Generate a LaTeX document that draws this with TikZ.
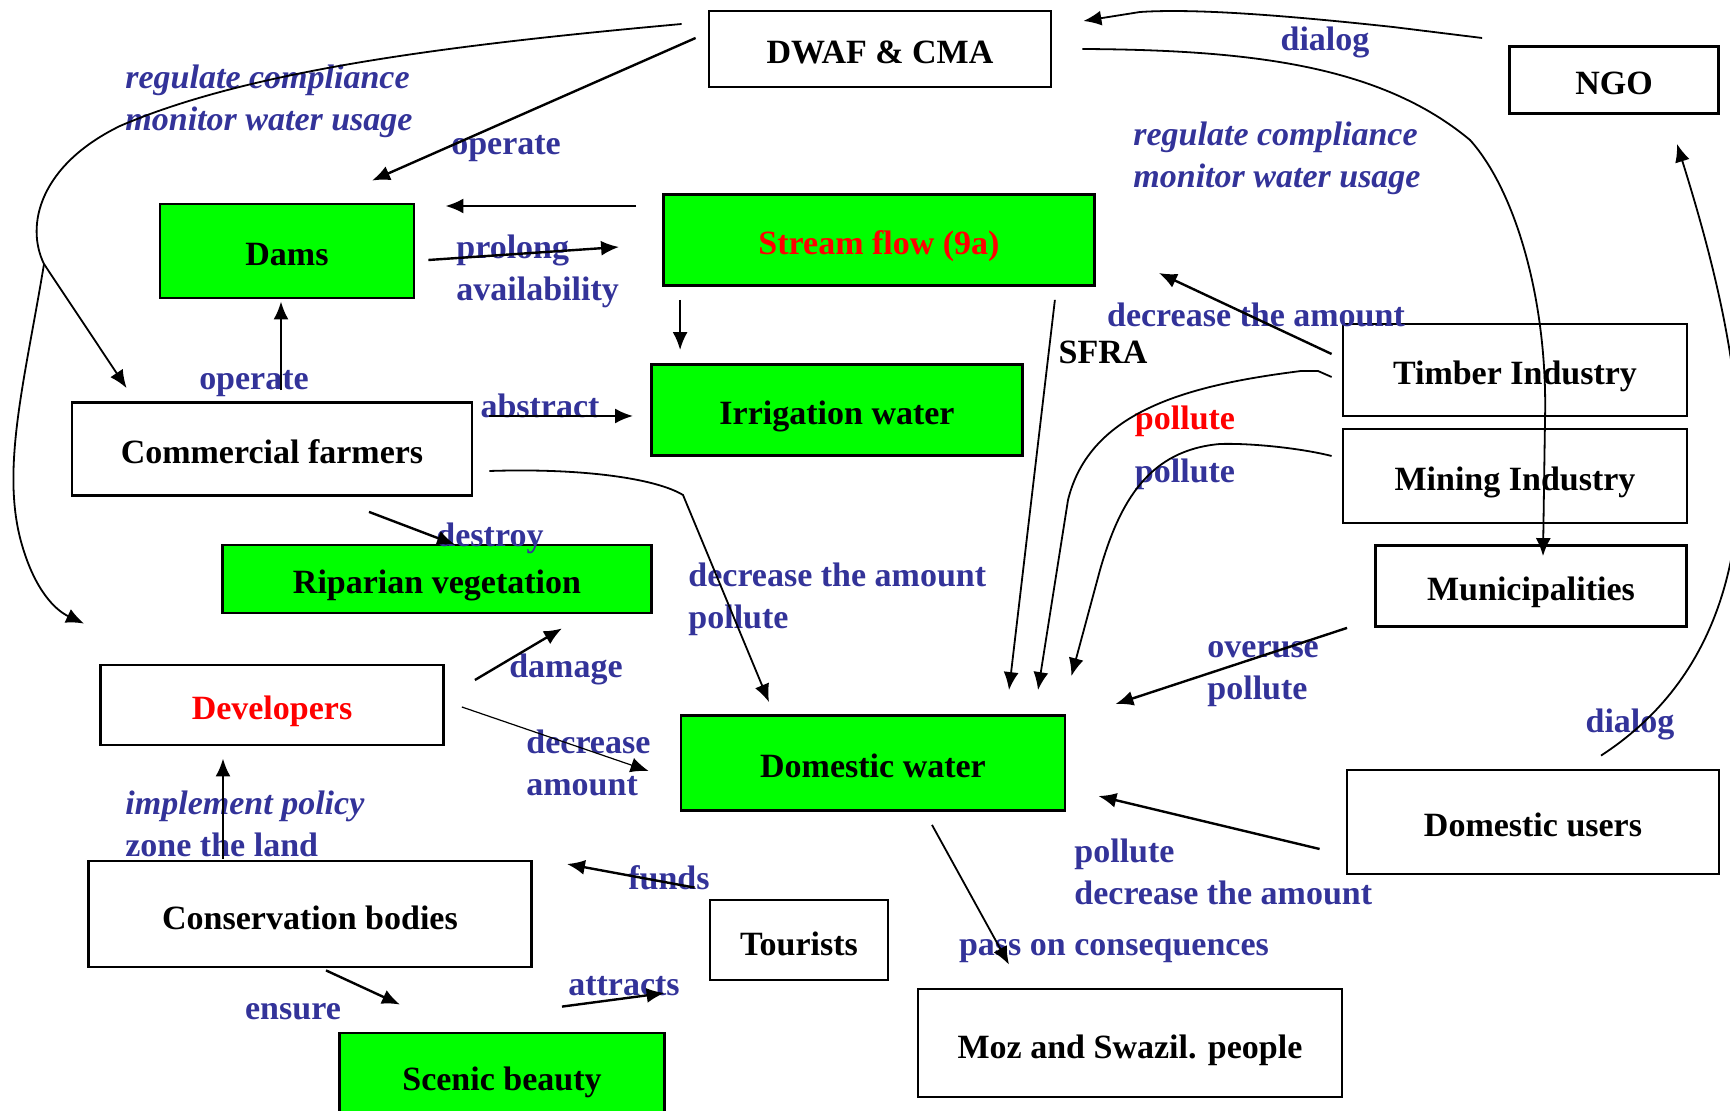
\documentclass[tikz,border=0pt]{standalone}
\usepackage{fontspec}
\setmainfont{Liberation Serif}
\usetikzlibrary{arrows.meta}
\definecolor{flow}{rgb}{0,1,0}
\definecolor{lbl}{rgb}{0.2,0.2,0.6}
\definecolor{hot}{rgb}{1,0,0}
\tikzset{
  actor/.style = {draw,line width=1.4pt,fill=white,inner sep=0pt,text height=17pt,text depth=2pt,
    font=\fontsize{17}{21}\selectfont\bfseries},
  water/.style = {actor,fill=flow},
  lab/.style = {text=lbl,inner sep=0pt,align=left,font=\fontsize{17}{21}\selectfont\bfseries},
  labi/.style = {lab,font=\fontsize{17}{21}\selectfont\bfseries\itshape},
  arr/.style = {->,> = {Latex[length=9pt,width=7.5pt]},line width=1.2pt},
  arrc/.style = {arr,line width=0.9pt},
  arrt/.style = {arr,line width=0.6pt}
}

\begin{document}
\begin{tikzpicture}[x=0.5pt,y=-0.5pt]
\useasboundingbox (0,0) rectangle (1730,1111);

\node[actor,minimum width=171pt,minimum height=38pt] (dwaf) at (880,49) {DWAF \& CMA};
\node[actor,minimum width=104.5pt,minimum height=33.5pt] (ngo) at (1614,80) {NGO};
\node[water,minimum width=127pt,minimum height=47pt] (dams) at (287,251) {Dams};
\node[water,minimum width=215.5pt,minimum height=45.5pt,text=hot] (stream) at (879,240) {Stream flow (9a)};
\node[water,minimum width=185.5pt,minimum height=45.5pt] (irrig) at (837,410) {Irrigation water};
\node[actor,minimum width=200pt,minimum height=46.5pt] (farmers) at (272,449) {Commercial farmers};
\node[water,minimum width=214.5pt,minimum height=34pt] (riparian) at (437,579) {Riparian vegetation};
\node[actor,minimum width=172pt,minimum height=46pt] (timber) at (1515,370) {Timber Industry};
\node[actor,minimum width=172pt,minimum height=47pt] (mining) at (1515,476) {Mining Industry};
\node[actor,minimum width=155.5pt,minimum height=40.5pt] (munic) at (1531,586) {Municipalities};
\node[actor,minimum width=171.5pt,minimum height=40pt,text=hot] (devel) at (272,705) {Developers};
\node[water,minimum width=192pt,minimum height=47.5pt] (domwater) at (873,763) {Domestic water};
\node[actor,minimum width=186pt,minimum height=52pt] (domusers) at (1533,822) {Domestic users};
\node[actor,minimum width=221.5pt,minimum height=53pt] (conserv) at (310,914) {Conservation bodies};
\node[actor,minimum width=89pt,minimum height=40pt] (tourists) at (799,940) {Tourists};
\node[actor,minimum width=212pt,minimum height=54pt] (moz) at (1130,1043) {Moz and Swazil. people};
\node[water,minimum width=162.5pt,minimum height=42pt] (scenic) at (502,1075) {Scenic beauty};

\node[labi,anchor=west] (reg1) at (125,101) {regulate compliance\\monitor water usage};
\node[lab] (op1) at (506,149) {operate};
\node[lab,anchor=west] (prolong) at (456,271) {prolong\\availability};
\node[lab] (op2) at (254,384) {operate};
\node[lab] (abstract) at (540,406) {abstract};
\node[lab] (destroy) at (490,538) {destroy};
\node[lab,anchor=west] (decpol) at (688,599) {decrease the amount\\pollute};
\node[lab] (damage) at (566,669) {damage};
\node[lab,anchor=west] (decamt) at (526,763) {decrease\\amount};
\node[lab,anchor=west] (policy) at (125,824) {\textit{implement policy}\\zone the land};
\node[lab] (funds) at (669,878) {funds};
\node[lab] (ensure) at (293,1012) {ensure};
\node[lab] (attracts) at (624,986) {attracts};
\node[lab] (pass) at (1114,951) {pass on consequences};
\node[lab,text=black] (sfra) at (1103,352) {SFRA};
\node[lab] (dec2) at (1256,315) {decrease the amount};
\node[lab,text=hot] (polred) at (1185,421) {pollute};
\node[lab] (polblue) at (1185,474) {pollute};
\node[labi,anchor=west] (reg2) at (1133,158) {regulate compliance\\monitor water usage};
\node[lab] (dialog1) at (1325,42) {dialog};
\node[lab] (dialog2) at (1630,724) {dialog};
\node[lab,anchor=west] (overuse) at (1207,674) {overuse\\pollute};
\node[lab,anchor=west] (poldec) at (1074,872) {pollute\\decrease the amount};

\draw[arr] ([shift={(-12,-11)}]dwaf.west) -- ([shift={(85,-22)}]dams.north);
\draw[arrc] ([shift={(-26,-25)}]dwaf.west) .. controls (450,45) and (250,70) .. (120,126)
  .. controls (40,165) and (25,225) .. (44,264) coordinate (split)
  -- ([shift={(56,-13)}]farmers.north west);
\draw[arrc] (split) .. controls (25,380) and (0,470) .. (22,545)
  .. controls (35,590) and (55,610) .. ([shift={(-15,-40)}]devel.north west);
\draw[arr] ([shift={(-26,-34)}]stream.west) -- ([shift={(30,-45)}]dams.east);
\draw[arr] ([shift={(13,9)}]dams.east) -- ([shift={(-43,7)}]stream.west);
\draw[arr] ([shift={(9,-11)}]farmers.north) -- ([shift={(-6,2)}]dams.south);
\draw[arr] ([shift={(18,13)}]stream.south west) -- ([shift={(30,-13)}]irrig.north west);
\draw[arr] ([shift={(16,-33)}]farmers.east) -- ([shift={(-17,6)}]irrig.west);
\draw[arrc] ([shift={(16,22)}]farmers.east) .. controls (580,468) and (655,478) .. (683,495)
  -- ([shift={(-104,-12)}]domwater.north);
\draw[arr] ([shift={(97,15)}]farmers.south) -- ([shift={(18,1)}]riparian.north);
\draw[arr] ([shift={(30,-25)}]devel.east) -- ([shift={(125,14)}]riparian.south);
\draw[arrt] ([shift={(17,2)}]devel.east) -- ([shift={(-31,8)}]domwater.west);
\draw[arr] ([shift={(-87,-1)}]conserv.north) -- ([shift={(-49,12)}]devel.south);
\draw[arr] ([shift={(-14,-11)}]tourists.north west) -- ([shift={(34,-50)}]conserv.east);
\draw[arr] ([shift={(16,2)}]conserv.south) -- ([shift={(-102,-27)}]scenic.north);
\draw[arr] ([shift={(60,-25)}]scenic.north) -- ([shift={(-44,53)}]tourists.west);
\draw[arrc] ([shift={(59,13)}]domwater.south) -- ([shift={(-121,-23)}]moz.north);
\draw[arrc] ([shift={(-41,13)}]stream.south east) -- ([shift={(136,-24)}]domwater.north);
\draw[arr] ([shift={(-10,-16)}]timber.west) -- ([shift={(63,33)}]stream.east);
\draw[arrc] ([shift={(-10,7)}]timber.west) -- (1318,371) -- (1301,371)
  .. controls (1190,385) and (1090,410) .. (1068,500) -- ([shift={(165,-24)}]domwater.north);
\draw[arrc] ([shift={(-10,-20)}]mining.west) .. controls (1300,448) and (1250,443) .. (1220,444)
  .. controls (1150,450) and (1120,500) .. (1100,570) -- ([shift={(5,-38)}]domwater.north east);
\draw[arrc] ([shift={(30,0)}]dwaf.east) .. controls (1250,50) and (1380,65) .. (1470,140)
  .. controls (1515,190) and (1548,300) .. (1545,420) -- ([shift={(12,12)}]munic.north);
\draw[arrc] ([shift={(-26,-42)}]ngo.west) -- (1393,27) .. controls (1300,17) and (1200,8) .. (1140,12)
  -- ([shift={(31,-28)}]dwaf.east);
\draw[arrc] ([shift={(68,-13)}]domusers.north) .. controls (1810,620) and (1735,330)
  .. ([shift={(63,29)}]ngo.south);
\draw[arr] ([shift={(-27,0)}]munic.south west) -- ([shift={(49,-10)}]domwater.north east);
\draw[arr] ([shift={(-26,27)}]domusers.west) -- ([shift={(32,33)}]domwater.east);
\end{tikzpicture}
\end{document}
